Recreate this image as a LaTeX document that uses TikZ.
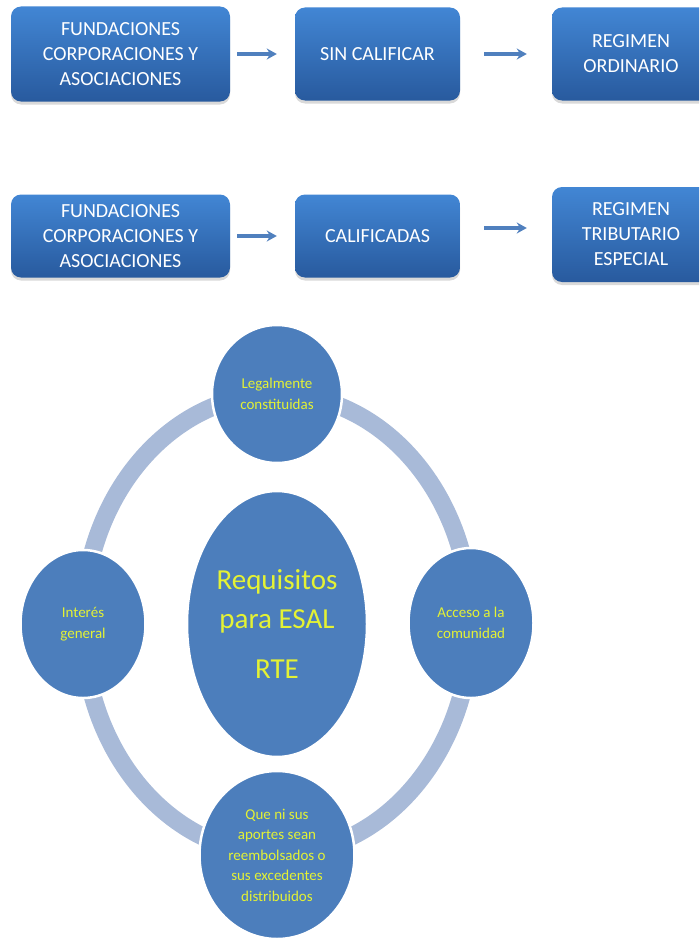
\documentclass[tikz,border=0pt]{standalone}
\usepackage{fontspec}
\setmainfont{Carlito}
\usetikzlibrary{arrows.meta}
\usetikzlibrary{shadows}
\usetikzlibrary{shapes.geometric}

\definecolor{cajaArriba}{RGB}{66,134,212}
\definecolor{cajaAbajo}{RGB}{40,90,158}
\definecolor{azulCirc}{RGB}{76,126,188}
\definecolor{anillo}{RGB}{168,186,216}
\definecolor{amarillo}{RGB}{228,242,52}
\definecolor{flechaAzul}{RGB}{80,128,190}

\begin{document}
\begin{tikzpicture}[x=1pt, y=-1pt,
  caja/.style={rounded corners=10pt, top color=cajaArriba, bottom color=cajaAbajo, text=white,
    font=\fontsize{20}{25}\selectfont, align=center, inner sep=0pt,
    drop shadow={opacity=.3, shadow xshift=0pt, shadow yshift=-3pt}},
  flecha/.style={draw=flechaAzul, line width=3.4pt, -{Stealth[length=10pt,width=11pt]}},
  circulo/.style={ellipse, fill=azulCirc, draw=white, line width=2.5pt, inner sep=0pt, align=center,
    text=amarillo, font=\fontsize{15}{20.5}\selectfont}]

\useasboundingbox (0,0) rectangle (699,942);
\clip (0,0) rectangle (699,942);

% filas de cajas
\node[caja, minimum width=219pt, minimum height=95pt] (f1) at (120.5,54) {FUNDACIONES\\CORPORACIONES Y\\ASOCIACIONES};
\node[caja, minimum width=165pt, minimum height=93pt] (s1) at (377.5,54) {SIN CALIFICAR};
\node[caja, minimum width=158pt, minimum height=93pt] (o1) at (631,54) {REGIMEN\\ORDINARIO};

\node[caja, minimum width=219pt, minimum height=83pt] (f2) at (120.5,236) {FUNDACIONES\\CORPORACIONES Y\\ASOCIACIONES};
\node[caja, minimum width=165pt, minimum height=83pt] (c2) at (377.5,236) {CALIFICADAS};
\node[caja, minimum width=158pt, minimum height=95pt] (r2) at (631,234.5) {REGIMEN\\TRIBUTARIO\\ESPECIAL};

\foreach \a/\b/\s/\t in {f1/s1/7/18, s1/o1/24/25, f2/c2/7/18}
\draw[flecha, shorten <=\s pt, shorten >=\t pt] (\a.east) -- (\b.west);
\draw[flecha, shorten <=24pt, shorten >=25pt] ([yshift=8pt]c2.east) -- ([yshift=6.5pt]r2.west);

% anillo y circulos
\coordinate (centro) at (277,624);
\draw[anillo, line width=18pt] (centro) ellipse [x radius=194, y radius=230];

\node[circulo, minimum width=130pt, minimum height=138pt] (leg) at (277,394) {Legalmente\\constituidas};
\node[circulo, minimum width=125pt, minimum height=148pt] (int) at (83,624) {Interés\\general};
\node[circulo, minimum width=125pt, minimum height=150pt] (acc) at (471,623) {Acceso a la\\comunidad};
\node[circulo, minimum width=155pt, minimum height=168pt] (que) at (277,855) {Que ni sus\\aportes sean\\reembolsados o\\sus excedentes\\distribuidos};
\node[circulo, minimum width=180pt, minimum height=266pt, font=\fontsize{29}{39}\selectfont] (req) at (centro) {Requisitos\\para ESAL\\[11pt]RTE};

\end{tikzpicture}
\end{document}
